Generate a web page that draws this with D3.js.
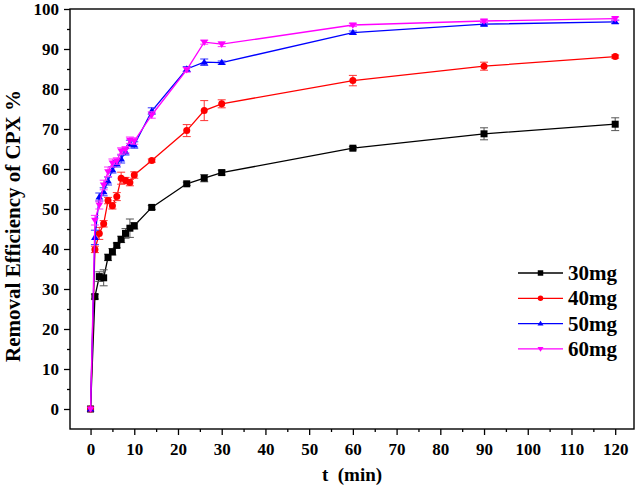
<!DOCTYPE html>
<html><head><meta charset="utf-8">
<script src="https://cdn.jsdelivr.net/npm/d3@7"></script>
<style>body{margin:0;background:#fff}svg{display:block}text{font-family:"Liberation Serif","Times New Roman",serif;font-weight:bold}</style>
</head><body><svg id="c" width="641" height="489"></svg>
<script>
const times = [0,1,2,3,4,5,6,7,8,9,10,14,22,26,30,60,90,120];
const y30 = [0,28.1,33.1,32.8,37.9,39.3,40.9,42.4,43.9,45.2,45.8,50.4,56.3,57.7,59.1,65.2,68.8,71.2];
const e30 = [0,0.6,1.2,2.0,0.8,0.8,0.6,0.8,1.2,2.3,0.8,0.5,0.4,0.9,0.6,0.4,1.5,1.6];
const y40 = [0,39.9,43.9,46.3,52.1,50.8,53.1,57.7,57.1,56.6,58.5,62.1,69.6,74.6,76.3,82.1,85.7,88.1];
const e40 = [0,0.8,1.5,0.8,0.8,0.8,1.0,1.5,0.8,0.8,0.8,0.4,1.5,2.5,1.0,1.3,1.0,0.4];
const y50 = [0,42.9,53.0,54.3,57.0,59.8,61.3,62.5,64.3,66.4,66.0,74.5,85.0,86.7,86.6,94.1,96.2,96.8];
const e50 = [0,1.8,1.0,1.0,1.0,0.8,0.8,1.0,0.8,0.8,0.8,0.8,0.6,0.8,0.4,0.4,0.4,0.4];
const y60 = [0,47.2,51.0,56.0,59.3,61.5,62.0,64.5,64.8,67.2,67.0,73.5,84.8,91.7,91.2,96.0,97.0,97.6];
const e60 = [0,1.2,1.0,1.2,1.2,1.0,0.8,0.8,0.8,0.8,0.8,0.8,0.6,0.5,0.6,0.4,0.4,0.4];
const seriesNames = ["30mg","40mg","50mg","60mg"];
const xTicks = d3.range(0,121,10);
const yTicks = d3.range(0,101,10);

const series = [
  {name:seriesNames[0], y:y30, e:e30, color:"#000000", ecolor:"#555555", sym:"square"},
  {name:seriesNames[1], y:y40, e:e40, color:"#ff0000", ecolor:"#ff3333", sym:"circle"},
  {name:seriesNames[2], y:y50, e:e50, color:"#0000ff", ecolor:"#3333ff", sym:"up"},
  {name:seriesNames[3], y:y60, e:e60, color:"#ff00ff", ecolor:"#ff33ff", sym:"down"}
];

const svg = d3.select("#c");
const L=70, R=634, T=9, B=429;
const x = d3.scaleLinear().domain([-4.7,124.3]).range([L,R]);
const y = d3.scaleLinear().domain([-5,100]).range([B,T]);

function symPath(sym, s){
  if(sym==="square") return d3.symbol(d3.symbolSquare, s*s)();
  if(sym==="circle") return d3.symbol(d3.symbolCircle, Math.PI*s*s/4)();
  const h=s*0.9, w=s*0.55;
  if(sym==="up") return `M0,${-h*0.6}L${w},${h*0.4}L${-w},${h*0.4}Z`;
  return `M0,${h*0.6}L${w},${-h*0.4}L${-w},${-h*0.4}Z`;
}

// axes
const xAxis = d3.axisBottom(x).tickValues(xTicks).tickSize(6).tickPadding(8).tickFormat(d3.format("d"));
const gx = svg.append("g").attr("transform",`translate(0,${B})`).call(xAxis);
gx.selectAll("line").attr("stroke","#000").attr("stroke-width",1.3);
gx.select(".domain").remove();
gx.selectAll("text").attr("font-size",17).attr("fill","#000").style("font-family","Liberation Serif").style("font-weight","bold");
const xMinor = d3.axisBottom(x).tickValues(d3.range(5,121,10)).tickSize(3).tickFormat("");
const gxm = svg.append("g").attr("transform",`translate(0,${B})`).call(xMinor);
gxm.select(".domain").remove(); gxm.selectAll("line").attr("stroke","#000").attr("stroke-width",1.3);

const yAxis = d3.axisLeft(y).tickValues(yTicks).tickSize(6).tickPadding(5).tickFormat(d3.format("d"));
const gy = svg.append("g").attr("transform",`translate(${L},0)`).call(yAxis);
gy.select(".domain").remove();
gy.selectAll("line").attr("stroke","#000").attr("stroke-width",1.3);
gy.selectAll("text").attr("font-size",17).attr("fill","#000").style("font-family","Liberation Serif").style("font-weight","bold");
const yMinor = d3.axisLeft(y).tickValues(d3.range(5,96,10)).tickSize(3).tickFormat("");
const gym = svg.append("g").attr("transform",`translate(${L},0)`).call(yMinor);
gym.select(".domain").remove(); gym.selectAll("line").attr("stroke","#000").attr("stroke-width",1.3);

svg.append("rect").attr("x",L).attr("y",T).attr("width",R-L).attr("height",B-T)
  .attr("fill","none").attr("stroke","#000").attr("stroke-width",1.4);

// titles
svg.append("text").attr("x",(L+R)/2).attr("y",481).attr("text-anchor","middle").attr("font-size",19)
  .attr("xml:space","preserve").text("t  (min)");
svg.append("text").attr("transform","translate(20,226) rotate(-90)").attr("text-anchor","middle").attr("font-size",21)
  .text("Removal Efficiency of CPX %");

// series
const line = d3.line().x((d,i)=>x(times[i])).y(d=>y(d));
series.forEach(s=>{
  const g = svg.append("g");
  g.append("path").datum(s.y).attr("d",line).attr("fill","none").attr("stroke",s.color).attr("stroke-width",1.3);
  s.y.forEach((v,i)=>{
    const e=s.e[i]; if(!e) return;
    const cx=x(times[i]), y1=y(v+e), y2=y(v-e);
    g.append("line").attr("x1",cx).attr("x2",cx).attr("y1",y1).attr("y2",y2).attr("stroke",s.ecolor).attr("stroke-width",1);
    [y1,y2].forEach(yy=>g.append("line").attr("x1",cx-4).attr("x2",cx+4).attr("y1",yy).attr("y2",yy).attr("stroke",s.ecolor).attr("stroke-width",1));
  });
  g.selectAll("path.m").data(s.y).enter().append("path").attr("class","m")
    .attr("transform",(d,i)=>`translate(${x(times[i])},${y(d)})`)
    .attr("d",symPath(s.sym,7)).attr("fill",s.color);
});

// legend
const lg = svg.append("g");
series.forEach((s,i)=>{
  const yy = 273 + i*25.3;
  lg.append("line").attr("x1",518).attr("x2",563).attr("y1",yy).attr("y2",yy).attr("stroke",s.color).attr("stroke-width",1.3);
  lg.append("path").attr("transform",`translate(540.5,${yy})`).attr("d",symPath(s.sym,5.5)).attr("fill",s.color);
  lg.append("text").attr("x",568).attr("y",yy+7).attr("font-size",21).text(s.name);
});
</script></body></html>
